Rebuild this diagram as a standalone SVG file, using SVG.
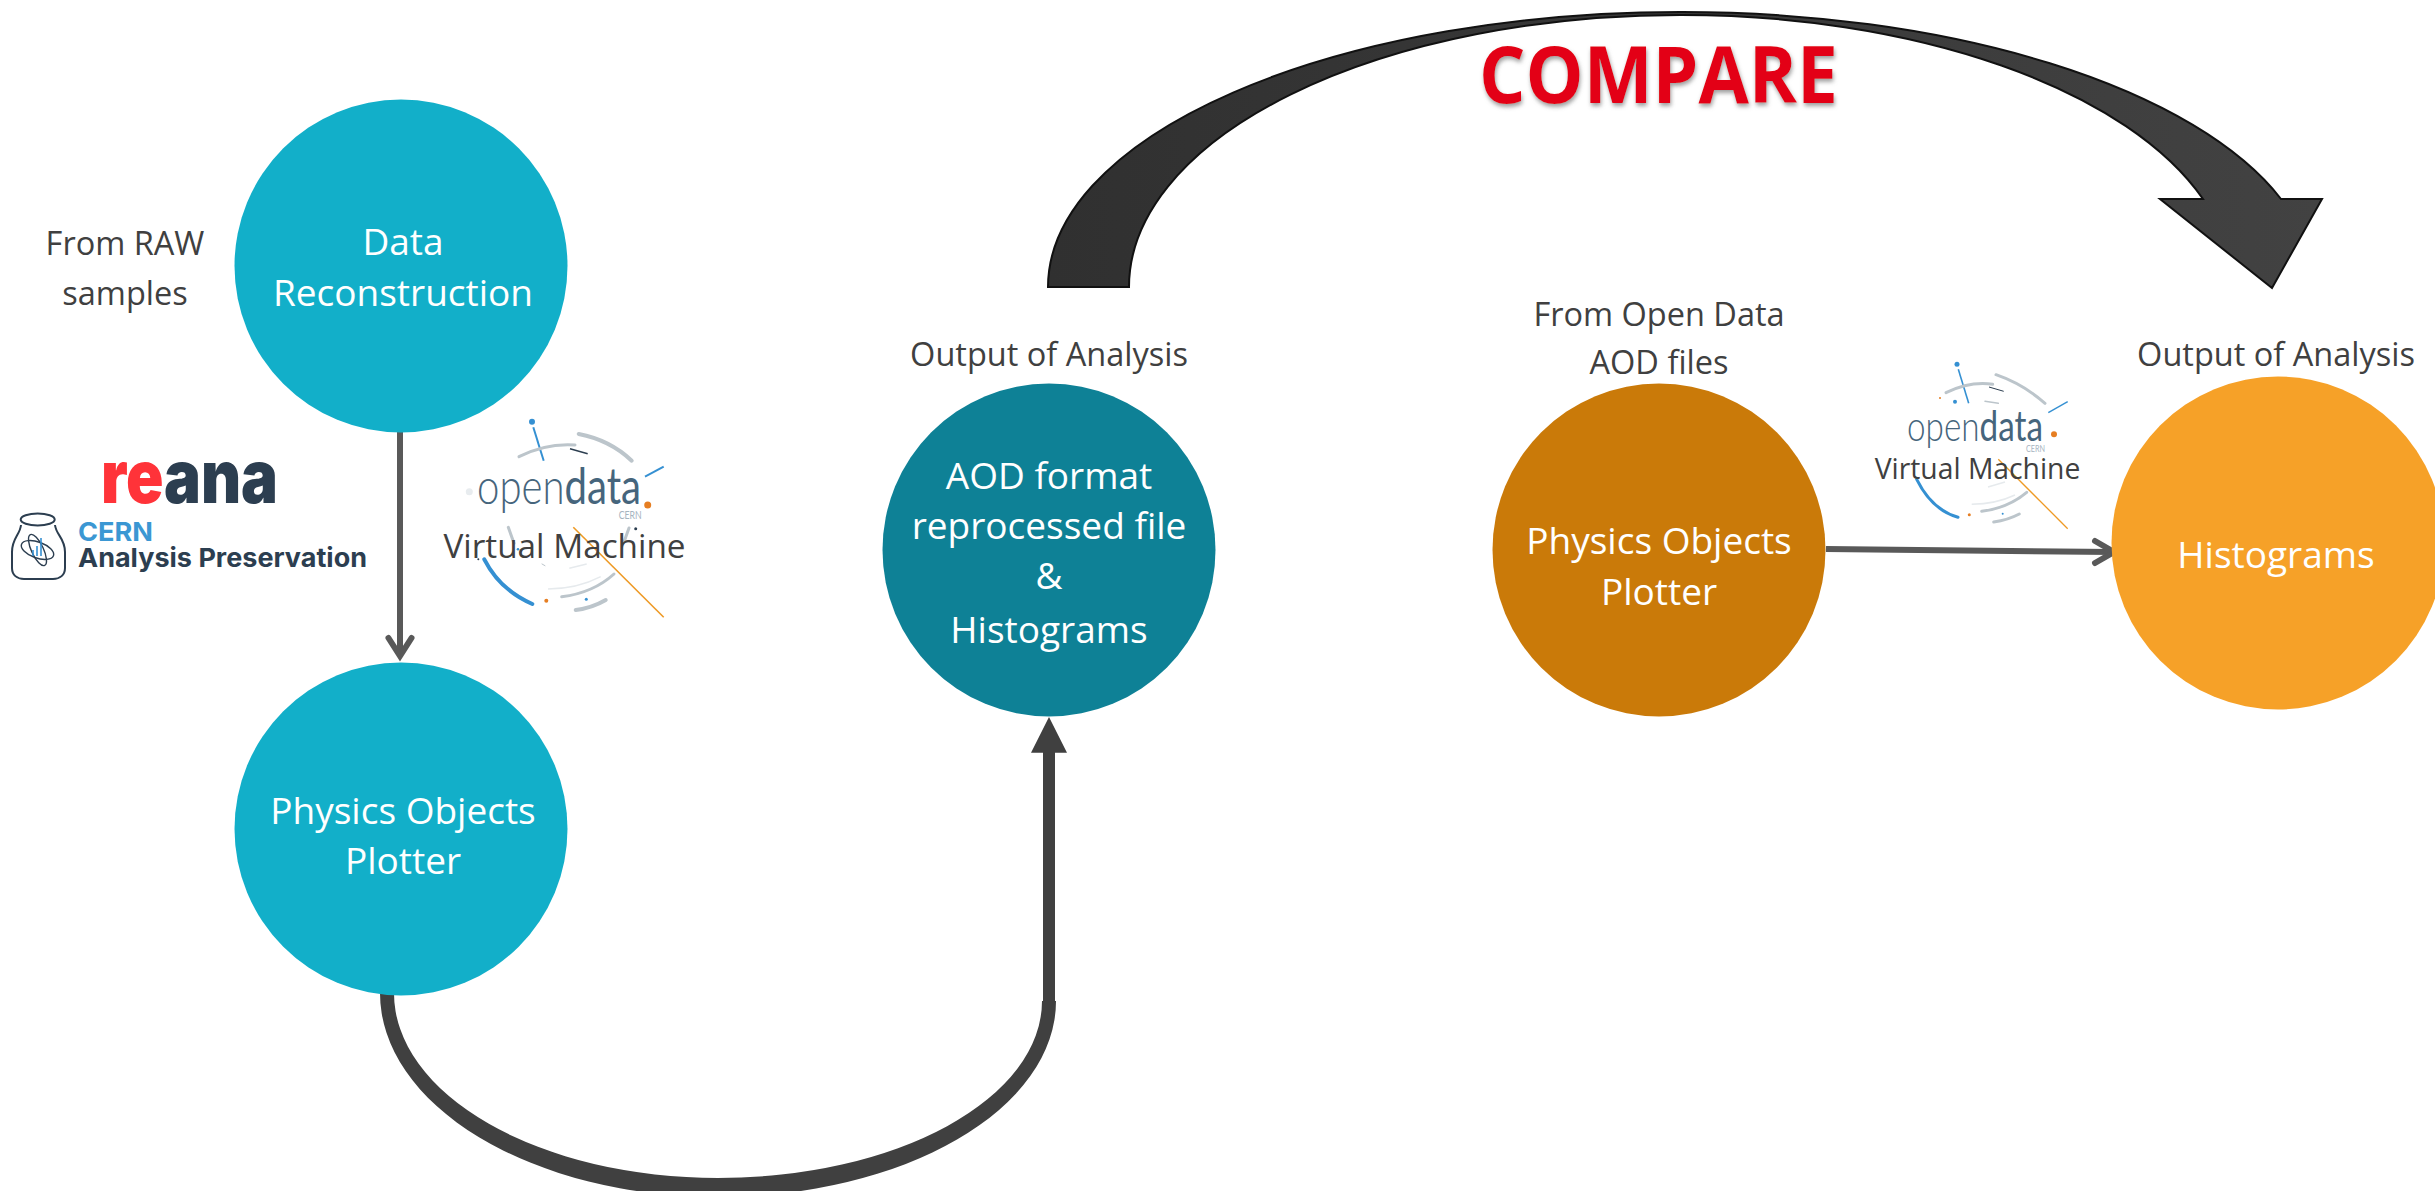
<svg xmlns="http://www.w3.org/2000/svg" width="2435" height="1191" viewBox="0 0 2435 1191">
<style>
text{font-family:"Open Sans","Liberation Sans",sans-serif}
.w{fill:#fff;font-size:37px;text-anchor:middle}
.k{fill:#404040;font-size:32.500px;text-anchor:middle}
.ln{fill:none;stroke:#595959;stroke-width:6}
.g2{fill:none;stroke:#bcc5cb;stroke-width:4;stroke-linecap:round}
.g1{fill:none;stroke:#bcc5cb;stroke-width:3;stroke-linecap:round}
.p{fill:none;stroke:#e6eaed;stroke-width:1.5}
.b{fill:none;stroke:#3590d2;stroke-width:2}
.b2{fill:none;stroke:#3590d2;stroke-width:4;stroke-linecap:round}
.o{fill:none;stroke:#ee9a25;stroke-width:1.6}
.n{fill:none;stroke:#2c3e50;stroke-width:1.5}
.bd{fill:#3590d2}.od{fill:#e67e22}
.of{font-family:Lato,"Open Sans",sans-serif;fill:#46657c}
.cn{font-family:Lato,"Open Sans",sans-serif;fill:#a6b4bf}
.vm{fill:#404040;text-anchor:middle}
.jar{fill:none;stroke:#2c3e50;stroke-width:2}
</style>
<defs>
<linearGradient id="cg" x1="0" x2="1" y1="0" y2="0"><stop offset="0" stop-color="#303030"/><stop offset="1" stop-color="#424242"/></linearGradient>
<filter id="sh" x="-10%" y="-20%" width="120%" height="150%"><feDropShadow dx="1" dy="3" stdDeviation="2" flood-color="#777" flood-opacity=".7"/></filter>
</defs>

<g id="logo-opendata-1">
<circle class="bd" cx="532" cy="421.7" r="3"/>
<path class="b" d="M533.3 427.3L543.7 460.7"/>
<path class="g1" d="M519 456.7Q546 443 575 445"/>
<path class="g2" d="M578.7 434Q610 440 631.7 460.7"/>
<path class="n" d="M570 448.7L587.7 453.7"/>
<path class="b" d="M645 476.7L663.7 466.7"/>
<circle cx="469.3" cy="491.7" r="3.5" fill="#e8ecef"/>
<circle class="od" cx="647.7" cy="505" r="3.5"/>
<path class="g1" d="M508.3 527.3L514 543.3M629 528L624 542"/>
<circle cx="635.7" cy="528.7" r="1.5" fill="#2c3e50"/>
<circle class="bd" cx="518" cy="549.3" r="1.3"/>
<circle cx="478.3" cy="559.3" r="1" fill="#2c3e50"/>
<path class="o" d="M573.3 527.3L663.7 617.3"/>
<path class="b2" d="M484.3 559.3Q500 590 532.3 604"/>
<circle class="od" cx="546.3" cy="600.7" r="2"/>
<path class="g1" d="M561.7 596.7Q593 593 614 574"/>
<path class="p" d="M548 589Q577 589 600.7 576.7M569.3 568.3L586.7 564"/>
<path class="g1" style="stroke-width:1" d="M542 564L545 565.7"/>
<circle class="bd" cx="586.3" cy="599.3" r="1.5"/>
<path class="g2" d="M575.7 610Q592 608 605.7 600"/>
<text class="of" x="477" y="504" font-size="50" textLength="164" lengthAdjust="spacingAndGlyphs"><tspan font-weight="300">open</tspan><tspan font-weight="400">data</tspan></text>
<text class="cn" x="618.7" y="518.7" font-size="11" textLength="23" lengthAdjust="spacingAndGlyphs">CERN</text>
<text class="vm" x="564.500" y="558" font-size="33.300">Virtual Machine</text>
</g>

<g id="logo-opendata-2">
<circle class="bd" cx="1957" cy="364.3" r="2.5"/>
<path class="b" style="stroke-width:1.6" d="M1958.3 369.3L1968.7 403.3"/>
<path class="g1" d="M1946 392.7Q1970 381 1992.7 384.3"/>
<path class="g2" style="stroke-width:3" d="M1996 374.7Q2023 384 2045 403.3"/>
<path class="n" style="stroke-width:1" d="M1989 387L2003.7 391.3"/>
<circle class="od" cx="1940" cy="398" r="1"/>
<circle class="bd" cx="1955" cy="401.7" r="2"/>
<path class="g1" style="stroke-width:1.5" d="M1985 401.3L1998.3 403.3"/>
<path class="b" style="stroke-width:1.4" d="M2048.3 412.7L2067.7 401.7"/>
<circle class="od" cx="2054" cy="434.3" r="3"/>
<path class="o" style="stroke-width:1.3" d="M1998.3 459.3L2067.7 528.7"/>
<path class="b2" style="stroke-width:3" d="M1916.7 479.3Q1932 510 1958 517.3"/>
<circle class="od" cx="1969.3" cy="514.7" r="1.5"/>
<path class="g1" d="M1981.7 511.3Q2008 508 2026.7 492.3"/>
<path class="p" d="M1971.7 504.3Q1996 504 2015 495M1988 487L2005 482"/>
<circle class="bd" cx="2002.7" cy="513.7" r="1"/>
<path class="g1" d="M1993.7 522Q2008 520 2019.3 514"/>
<text class="of" x="1907" y="441" font-size="42" textLength="136" lengthAdjust="spacingAndGlyphs"><tspan font-weight="300">open</tspan><tspan font-weight="400">data</tspan></text>
<text class="cn" x="2026" y="452" font-size="9" textLength="19" lengthAdjust="spacingAndGlyphs">CERN</text>
<text class="vm" x="1977.5" y="479" font-size="28.300">Virtual Machine</text>
</g>

<g id="logo-reana">
<text x="101" y="503" font-size="74" font-weight="900" style="font-family:Inter,'Open Sans',sans-serif" textLength="177" lengthAdjust="spacingAndGlyphs"><tspan fill="#ff3339">re</tspan><tspan fill="#2c3e50">ana</tspan></text>
</g>
<g id="logo-cap">
<ellipse class="jar" cx="37.7" cy="519.5" rx="17" ry="6"/>
<path class="jar" d="M21 525C20 535 12 538 12 552V568C12 575 17 579 24 579H53C60 579 65 575 65 568V552C65 538 56 535 55 525"/>
<g fill="none" stroke="#2c3e50" stroke-width="1.4"><ellipse cx="37.5" cy="550" rx="17" ry="8" transform="rotate(20 37.5 550)"/><ellipse cx="37.5" cy="550" rx="17" ry="6" transform="rotate(65 37.5 550)"/></g>
<path d="M33 550V556M37 546V556M41 538V556" stroke="#3590d2" stroke-width="1.6"/>
<text x="78" y="541" font-size="26" font-weight="700" fill="#3b97d3" style="font-family:Inter,'Open Sans',sans-serif" textLength="75" lengthAdjust="spacingAndGlyphs">CERN</text>
<text x="78" y="567.3" font-size="26" font-weight="700" fill="#2c3e50" style="font-family:Inter,'Open Sans',sans-serif" textLength="289" lengthAdjust="spacingAndGlyphs">Analysis Preservation</text>
</g>

<g id="connectors">
<path class="ln" d="M400 432V656"/>
<path class="ln" stroke-linecap="round" d="M388.500 638L400 656L411.500 638"/>
<path class="ln" d="M1826 549L2113 552"/>
<path class="ln" stroke-linecap="round" d="M2095 541L2114 552L2095 563"/>
<path fill="#404040" d="M380 993A338 204 0 0 0 718 1197A338 196 0 0 0 1056 1001H1042A324 177 0 0 1 718 1178A324 185 0 0 1 394 993Z"/>
<path fill="#404040" d="M1043 1001V752.700H1031L1049 717L1067 752.700H1055V1001Z"/>
<path fill="url(#cg)" stroke="#111" stroke-width="2" d="M1048 287A632 275 0 0 1 1680 12A632 275 0 0 1 2281 199H2322L2272 288L2160 199H2203A551 272 0 0 0 1680 15A551 272 0 0 0 1129 287Z"/>
</g>

<g id="node-data-reconstruction">
<circle cx="401" cy="266" r="166.500" fill="#12afc9"/>
<text class="w" x="403" y="255">Data</text>
<text class="w" x="403" y="306">Reconstruction</text>
</g>
<g id="node-plotter-1">
<circle cx="401" cy="829" r="166.500" fill="#12afc9"/>
<text class="w" x="403" y="824">Physics Objects</text>
<text class="w" x="403" y="874">Plotter</text>
</g>
<g id="node-aod">
<circle cx="1049" cy="550" r="166.500" fill="#0e8196"/>
<text class="w" x="1049" y="489">AOD format</text>
<text class="w" x="1049" y="539">reprocessed file</text>
<text class="w" x="1049" y="589">&amp;</text>
<text class="w" x="1049" y="643">Histograms</text>
</g>
<g id="node-plotter-2">
<circle cx="1659" cy="550" r="166.500" fill="#ca7a09"/>
<text class="w" x="1659" y="554">Physics Objects</text>
<text class="w" x="1659" y="605">Plotter</text>
</g>
<g id="node-histograms">
<circle cx="2278" cy="543" r="166.500" fill="#f6a128"/>
<text class="w" x="2276" y="568">Histograms</text>
</g>

<g id="labels">
<text class="k" x="125" y="255">From RAW</text>
<text class="k" x="125" y="305">samples</text>
<text class="k" x="1049" y="366">Output of Analysis</text>
<text class="k" x="1659" y="326">From Open Data</text>
<text class="k" x="1659" y="374">AOD files</text>
<text class="k" x="2276" y="366">Output of Analysis</text>
<text x="1479" y="103" font-size="78" font-weight="700" fill="#e30613" filter="url(#sh)" textLength="359" lengthAdjust="spacingAndGlyphs">COMPARE</text>
</g>
</svg>
